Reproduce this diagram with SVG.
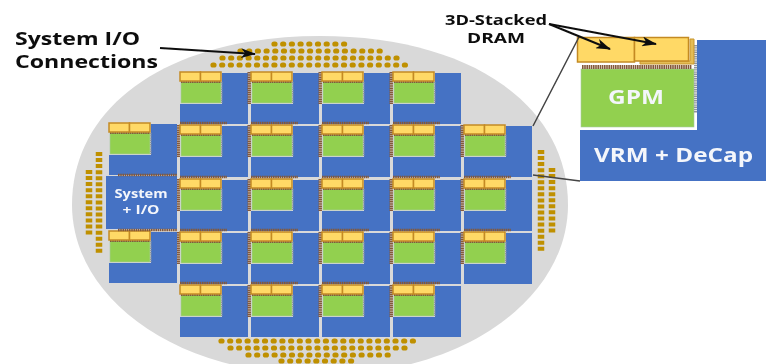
<svg xmlns="http://www.w3.org/2000/svg" xmlns:xlink="http://www.w3.org/1999/xlink" width="766" height="364" viewBox="0 0 766 364">
<style>
text{font-family:"Open Sans","Liberation Sans",sans-serif;font-weight:700}
.lab{fill:#111}
.w{fill:#f4f6fb;text-anchor:middle}
.b{fill:#4472c4}
.g{fill:#92d050;stroke:#a9c9a0;stroke-width:.6}
.y{fill:#ffd966;stroke:#c48a24;stroke-width:1.5}
.pin{stroke:#84593a;fill:none;stroke-dasharray:1.6 .6}
.gp{stroke:#8f959e;fill:none;stroke-dasharray:1.4 .8}
.dh{stroke:#bf9000;stroke-width:5.2;stroke-linecap:round;stroke-dasharray:1 7.7;fill:none}
.dv{stroke:#bf9000;stroke-width:6.5;stroke-dasharray:4 2.05;fill:none}
.ln{stroke:#111;fill:none}
.ld{stroke:#444;stroke-width:1.5;fill:none}
</style>
<defs>
<filter id="soft" x="-2%" y="-2%" width="104%" height="104%"><feGaussianBlur stdDeviation="0.45"/></filter>
<marker id="ah" markerWidth="15" markerHeight="10" refX="14" refY="5" orient="auto" markerUnits="userSpaceOnUse"><path d="M0 0L15 5L0 10L4 5Z" fill="#111"/></marker>
<g id="tile">
<path class="b" d="M42 1H68V52H0V32H42Z"/>
<rect class="g" x="1" y="10" width="40" height="21"/>
<path class="gp" stroke-width="1.5" d="M41.800 10V31"/>
<path class="pin" stroke-width="2" d="M1 10H41"/>
<rect class="y" x="0" y="0" width="20.500" height="9"/>
<rect class="y" x="20.500" y="0" width="20.500" height="9"/>
</g>
<path id="pl" class="pin" stroke-width="3.5" d="M-1.800 0V32"/>
<path id="pt" class="pin" stroke-width="2.5" d="M0 -2H47"/>
</defs>
<rect width="766" height="364" fill="#fff"/>
<g filter="url(#soft)">
<path id="wafer" d="M72 205C72 104 171 36 320 36C469 36 568 104 568 205C568 295 469 375 320 375C171 375 72 295 72 205Z" fill="#d9d9d9"/>
<g id="io-bumps">
<path class="dh" d="M274 44H349M240 51H384M222 58H401M213 65H409M221 341H418M230 348H411M248 355H394M281 361H358"/>
<path class="dv" d="M541 150V251M552 168V234M99 152V254M89 170V235"/>
</g>
<g id="gpm-r1c1" transform="translate(180 72)"><use href="#tile"/></g>
<g id="gpm-r1c2" transform="translate(251 72)"><use href="#pl"/><use href="#tile"/></g>
<g id="gpm-r1c3" transform="translate(322 72)"><use href="#pl"/><use href="#tile"/></g>
<g id="gpm-r1c4" transform="translate(393 72)"><use href="#pl"/><use href="#tile"/></g>
<g id="gpm-r2c1" transform="translate(180 125)"><use href="#pl"/><use href="#pt"/><use href="#tile"/></g>
<g id="gpm-r2c2" transform="translate(251 125)"><use href="#pl"/><use href="#pt"/><use href="#tile"/></g>
<g id="gpm-r2c3" transform="translate(322 125)"><use href="#pl"/><use href="#pt"/><use href="#tile"/></g>
<g id="gpm-r2c4" transform="translate(393 125)"><use href="#pl"/><use href="#pt"/><use href="#tile"/></g>
<g id="gpm-r2c5" transform="translate(464 125)"><use href="#pl"/><use href="#tile"/></g>
<g id="gpm-r3c1" transform="translate(180 179)"><use href="#pl"/><use href="#pt"/><use href="#tile"/></g>
<g id="gpm-r3c2" transform="translate(251 179)"><use href="#pl"/><use href="#pt"/><use href="#tile"/></g>
<g id="gpm-r3c3" transform="translate(322 179)"><use href="#pl"/><use href="#pt"/><use href="#tile"/></g>
<g id="gpm-r3c4" transform="translate(393 179)"><use href="#pl"/><use href="#pt"/><use href="#tile"/></g>
<g id="gpm-r3c5" transform="translate(464 179)"><use href="#pl"/><use href="#pt"/><use href="#tile"/></g>
<g id="gpm-r4c1" transform="translate(180 232)"><use href="#pl"/><use href="#pt"/><use href="#tile"/></g>
<g id="gpm-r4c2" transform="translate(251 232)"><use href="#pl"/><use href="#pt"/><use href="#tile"/></g>
<g id="gpm-r4c3" transform="translate(322 232)"><use href="#pl"/><use href="#pt"/><use href="#tile"/></g>
<g id="gpm-r4c4" transform="translate(393 232)"><use href="#pl"/><use href="#pt"/><use href="#tile"/></g>
<g id="gpm-r4c5" transform="translate(464 232)"><use href="#pl"/><use href="#pt"/><use href="#tile"/></g>
<g id="gpm-r5c1" transform="translate(180 285)"><use href="#pt"/><use href="#tile"/></g>
<g id="gpm-r5c2" transform="translate(251 285)"><use href="#pl"/><use href="#pt"/><use href="#tile"/></g>
<g id="gpm-r5c3" transform="translate(322 285)"><use href="#pl"/><use href="#pt"/><use href="#tile"/></g>
<g id="gpm-r5c4" transform="translate(393 285)"><use href="#pl"/><use href="#pt"/><use href="#tile"/></g>
<g id="gpm-left-top" transform="translate(109 123)"><use href="#tile"/></g>
<g id="gpm-left-bottom" transform="translate(109 231)"><use href="#tile"/></g>
<g id="system-io">
<rect class="b" x="106" y="176" width="71" height="53"/>
<path class="pin" stroke-width="2.500" d="M118 175H177M118 230H177"/>
<text class="w" font-size="12" x="141" y="198" textLength="53" lengthAdjust="spacingAndGlyphs">System</text>
<text class="w" font-size="12" x="141" y="214" textLength="37" lengthAdjust="spacingAndGlyphs">+ I/O</text>
</g>
<g id="gpm-detail">
<path class="b" d="M697 40H766V181H580V130H697Z"/>
<rect class="g" x="581" y="69" width="113" height="58"/>
<path class="gp" stroke-width="3" d="M695.500 45V113"/>
<path class="pin" stroke-width="4" d="M582 67H692"/>
<path d="M690 39H694V64H640V61H690Z" fill="#e4bc55" stroke="#c9962f"/>
<rect class="y" x="577.500" y="37.500" width="57" height="24.500"/>
<rect class="y" x="634.500" y="37.500" width="54" height="23.500"/>
<text class="w" font-size="19" x="636" y="104" textLength="56" lengthAdjust="spacingAndGlyphs">GPM</text>
<text class="w" font-size="19" x="673.500" y="162" textLength="159" lengthAdjust="spacingAndGlyphs">VRM + DeCap</text>
</g>
<g id="connectors">
<path class="ld" d="M579 37L533 126M533 175L580 181"/>
<path class="ln" stroke-width="2" marker-end="url(#ah)" d="M160 48L255 54"/>
<path class="ln" stroke-width="2" marker-end="url(#ah)" d="M549 24L610 49"/>
<path class="ln" stroke-width="2" marker-end="url(#ah)" d="M549 24L656 44"/>
</g>
<g id="labels">
<text class="lab" font-size="18" x="15" y="45" textLength="125" lengthAdjust="spacingAndGlyphs">System I/O</text>
<text class="lab" font-size="18" x="15" y="68" textLength="143" lengthAdjust="spacingAndGlyphs">Connections</text>
<text class="lab" font-size="14.500" x="445" y="25" textLength="102" lengthAdjust="spacingAndGlyphs">3D-Stacked</text>
<text class="lab" font-size="14.500" x="467" y="43" textLength="58" lengthAdjust="spacingAndGlyphs">DRAM</text>
</g>
</g>
</svg>
